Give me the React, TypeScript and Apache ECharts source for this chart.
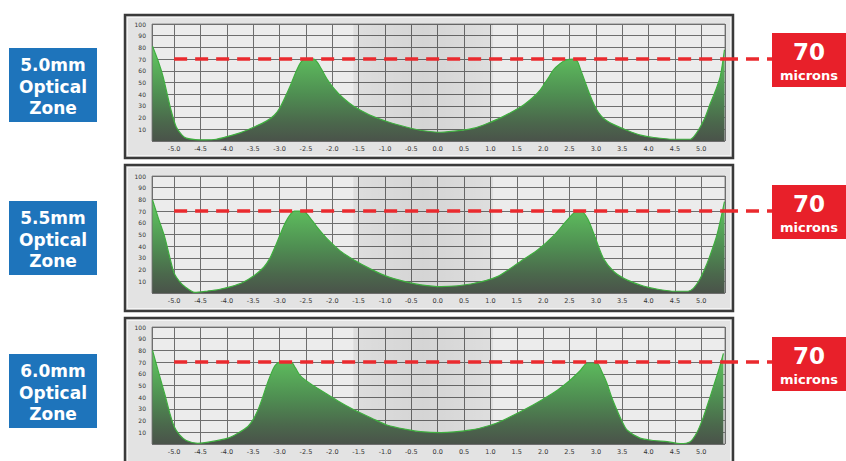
import React, { useEffect, useRef } from "react";
import * as echarts from "echarts";

const XMIN = -5.42;
const XMAX = 5.45;
const REF_LEVEL = 70;
const DASH_START = -5.0;
const BAND = [-1.6, 1.05];

const zoneLabels = ["5.0mm", "5.5mm", "6.0mm"];
const refLabel = "70";
const refUnit = "microns";

const x50 = [-5.41, -5.3, -5.21, -5.06, -4.96, -4.85, -4.77, -4.6, -4.4, -4.2, -3.98, -3.75, -3.48, -3.25, -3.1, -3.0, -2.9, -2.78, -2.68, -2.6, -2.52, -2.35, -2.28, -2.2, -2.1, -1.97, -1.8, -1.6, -1.3, -0.95, -0.6, -0.3, 0.06, 0.44, 0.69, 0.94, 1.2, 1.57, 1.8, 1.95, 2.1, 2.2, 2.32, 2.42, 2.58, 2.65, 2.71, 2.8, 2.9, 3.0, 3.1, 3.2, 3.34, 3.6, 3.85, 4.1, 4.47, 4.79, 4.88, 4.98, 5.08, 5.17, 5.27, 5.36, 5.44];
const y50 = [81, 68, 55, 26.5, 12, 5, 2.5, 1.2, 1, 1.5, 4, 7, 12, 17, 22, 28, 37, 49, 60, 67, 70, 70, 67, 61, 53, 45, 37, 30, 22.5, 16.5, 12, 9, 7.5, 9, 11, 15, 20, 29, 37, 44, 54, 61, 66, 69, 70, 68, 61, 50, 38, 28, 21.5, 17.5, 14, 9, 5, 3, 1.5, 1.5, 5, 12, 21, 32, 43, 55, 78];

const x55 = [-5.41, -5.3, -5.18, -5.08, -5.0, -4.9, -4.8, -4.61, -4.36, -4.15, -3.92, -3.7, -3.48, -3.3, -3.18, -3.06, -2.97, -2.88, -2.78, -2.72, -2.55, -2.45, -2.3, -2.09, -1.85, -1.58, -1.25, -0.95, -0.6, -0.32, 0.06, 0.63, 1.13, 1.57, 1.9, 2.2, 2.45, 2.6, 2.72, 2.85, 3.0, 3.15, 3.35, 3.6, 3.9, 4.2, 4.5, 4.75, 4.85, 4.95, 5.05, 5.15, 5.3, 5.44];
const y55 = [79.5, 64, 48, 30, 17, 10, 5.5, 0.5, 1.7, 3, 5.5, 9, 15, 22, 30, 42, 52, 61, 68, 70, 70, 66, 57, 46, 36, 28, 20, 14, 9.5, 7, 5.5, 7.7, 14, 27, 37, 49, 62, 69, 70, 63, 46, 29, 18, 11, 6, 3, 1.5, 1.5, 4, 10, 19, 30, 50, 78];

const x60 = [-5.41, -5.3, -5.18, -5.08, -5.0, -4.9, -4.77, -4.55, -4.3, -3.98, -3.8, -3.6, -3.5, -3.41, -3.32, -3.23, -3.1, -3.0, -2.78, -2.7, -2.6, -2.4, -2.22, -1.9, -1.58, -1.25, -0.95, -0.6, -0.32, 0.06, 0.63, 1.0, 1.25, 1.63, 1.95, 2.27, 2.5, 2.71, 2.83, 3.02, 3.12, 3.21, 3.3, 3.4, 3.5, 3.59, 3.84, 4.1, 4.35, 4.6, 4.79, 4.92, 5.04, 5.13, 5.23, 5.33, 5.42];
const y60 = [80, 62, 43, 26, 15, 8, 3, 0.6, 2, 5, 9, 15, 21, 29, 40, 52, 66, 70, 70, 65, 58, 51, 46, 37, 29, 22, 16, 12.5, 10.5, 9.7, 12, 16, 20.5, 29, 37, 46, 54, 63, 69, 69, 61, 52, 40, 29, 19, 12, 5, 3, 2, 0.3, 2, 10, 23, 35, 49, 63, 77.5];

const profilesX = [x50, x55, x60];
const profilesY = [y50, y55, y60];

// layout
const GRID_TOPS = [24, 176, 327];
const PLOT_H = 117;
const PANEL_BOXES = [
  [125, 15, 608, 143],
  [125, 165, 608, 146],
  [125, 318, 608, 146],
];
const BLUE_TOPS = [48, 201, 354];
const RED_TOPS = [33, 185, 337];

export default function App() {
  const ref = useRef<HTMLDivElement>(null);
  useEffect(() => {
    if (!ref.current) return;
    const chart = echarts.init(ref.current, null, { renderer: "svg" });
    const font = '"DejaVu Sans", Verdana, sans-serif';

    const grids = GRID_TOPS.map((top) => ({
      left: 152,
      top,
      width: 573,
      height: PLOT_H,
      show: true,
      backgroundColor: "#ececec",
      borderColor: "#8a8a8a",
      borderWidth: 1,
    }));

    const xAxes = GRID_TOPS.map((_, i) => ({
      type: "value",
      gridIndex: i,
      min: XMIN,
      max: XMAX,
      splitNumber: 20,
      axisLine: { show: false },
      axisTick: { show: false },
      axisLabel: {
        interval: 0,
        showMinLabel: false,
        showMaxLabel: false,
        fontSize: 6.5,
        color: "#333333",
        margin: 4,
        fontFamily: font,
        formatter: (v: number) => v.toFixed(1),
      },
      splitLine: { show: true, lineStyle: { color: "#6e6e6e", width: 1 } },
    }));

    const yAxes = GRID_TOPS.map((_, i) => ({
      type: "value",
      gridIndex: i,
      min: 0,
      max: 100,
      interval: 10,
      axisLine: { show: false },
      axisTick: { show: false },
      axisLabel: {
        fontSize: 6,
        color: "#333333",
        margin: 6,
        fontFamily: font,
        formatter: (v: number) => (v === 0 ? "" : String(v)),
      },
      splitLine: { show: true, lineStyle: { color: "#6e6e6e", width: 1 } },
    }));

    const series = profilesX.map((xs, i) => ({
      type: "line",
      xAxisIndex: i,
      yAxisIndex: i,
      data: xs.map((x, j) => [x, profilesY[i][j]]),
      symbol: "none",
      smooth: 0.25,
      lineStyle: { color: "#3fae3f", width: 1.2 },
      areaStyle: {
        color: new echarts.graphic.LinearGradient(0, 0, 0, 1, [
          { offset: 0, color: "#6ccb6c" },
          { offset: 0.15, color: "#5cb85c" },
          { offset: 0.5, color: "#4f8f52" },
          { offset: 0.8, color: "#4b684c" },
          { offset: 1, color: "#4a534a" },
        ]),
        opacity: 1,
      },
      markArea: {
        silent: true,
        itemStyle: {
          color: new echarts.graphic.LinearGradient(0, 0, 1, 0, [
            { offset: 0, color: "rgba(0,0,0,0.06)" },
            { offset: 0.5, color: "rgba(0,0,0,0.1)" },
            { offset: 1, color: "rgba(0,0,0,0.06)" },
          ]),
        },
        data: [[{ xAxis: BAND[0] }, { xAxis: BAND[1] }]],
      },
      markLine: {
        silent: true,
        symbol: "none",
        label: { show: false },
        lineStyle: { color: "#ea2a2e", width: 3.5, type: [13, 8] },
        data: [[{ coord: [DASH_START, REF_LEVEL] }, { coord: [XMAX, REF_LEVEL] }]],
      },
    }));

    const graphics: any[] = [];
    PANEL_BOXES.forEach(([x, y, w, h], i) => {
      graphics.push({
        id: "panel" + i,
        type: "rect",
        z: -10,
        shape: { x, y, width: w, height: h },
        style: { fill: "#e3e3e3", stroke: "#3a3a3a", lineWidth: 2.5 },
      });
      graphics.push({
        id: "panelIn" + i,
        type: "rect",
        z: -9,
        shape: { x: x + 2.5, y: y + 2.5, width: w - 5, height: h - 5 },
        style: { fill: "none", stroke: "#f4f4f4", lineWidth: 1 },
      });
    });
    zoneLabels.forEach((lab, i) => {
      const top = BLUE_TOPS[i];
      graphics.push({
        id: "blue" + i,
        type: "rect",
        z: 10,
        shape: { x: 9, y: top, width: 88, height: 74 },
        style: { fill: "#1e74bb" },
      });
      [lab, "Optical", "Zone"].forEach((t, k) => {
        graphics.push({
          id: "blueT" + i + "_" + k,
          type: "text",
          z: 11,
          x: 53,
          y: top + 17 + k * 21.5,
          style: {
            text: t,
            fill: "#ffffff",
            font: "bold 17px " + font,
            align: "center",
            verticalAlign: "middle",
          },
        });
      });
      const rt = RED_TOPS[i];
      graphics.push({
        id: "red" + i,
        type: "rect",
        z: 10,
        shape: { x: 772, y: rt, width: 74, height: 54 },
        style: { fill: "#e8202a" },
      });
      graphics.push({
        id: "redT" + i,
        type: "text",
        z: 11,
        x: 809,
        y: rt + 19,
        style: {
          text: refLabel,
          fill: "#ffffff",
          font: "bold 23px " + font,
          align: "center",
          verticalAlign: "middle",
        },
      });
      graphics.push({
        id: "redU" + i,
        type: "text",
        z: 11,
        x: 809,
        y: rt + 42,
        style: {
          text: refUnit,
          fill: "#ffffff",
          font: "bold 13px " + font,
          align: "center",
          verticalAlign: "middle",
        },
      });
    });

    chart.setOption({
      animation: false,
      backgroundColor: "#ffffff",
      grid: grids,
      xAxis: xAxes,
      yAxis: yAxes,
      series,
      graphic: { elements: graphics },
    });

    const ext: any[] = GRID_TOPS.map((_, i) => {
      const p = chart.convertToPixel({ gridIndex: i }, [XMAX, REF_LEVEL]) as number[];
      return {
        id: "dashExt" + i,
        type: "line",
        z: 9,
        shape: { x1: p[0], y1: p[1], x2: 772, y2: p[1] },
        style: { stroke: "#ea2a2e", lineWidth: 3.5, lineDash: [13, 8] },
      };
    });
    chart.setOption({ graphic: { elements: ext } });

    return () => chart.dispose();
  }, []);
  return (
    <div
      ref={ref}
      style={{ position: "fixed", left: 0, top: 0, width: 846, height: 461 }}
    />
  );
}
